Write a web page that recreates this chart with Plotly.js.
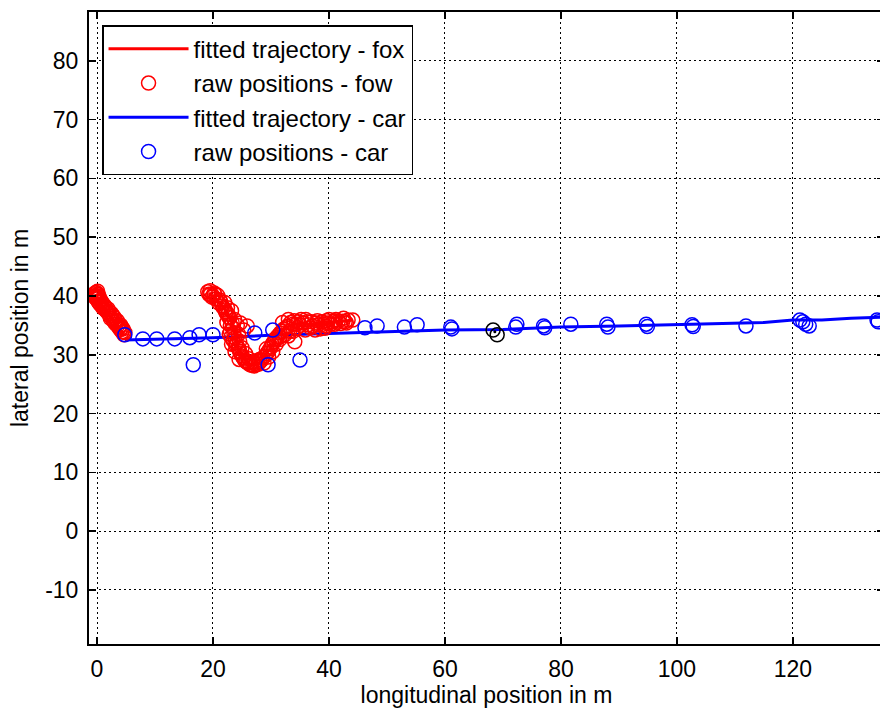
<!DOCTYPE html>
<html><head><meta charset="utf-8">
<script src="https://cdn.plot.ly/plotly-3.0.1.min.js"></script>
<style>html,body{margin:0;padding:0;overflow:hidden;background:#fff}</style>
</head><body><div id="chart" style="width:884px;height:711px"></div>
<script>
// fitted fox trajectory (null splits the two pieces)
const foxFitX = [-0.2, 0.5, 1.5, 2.5, 3.5, 4.6, null, 19.3, 20.5, 21.6, 22.6, 23.3, 23.7, 24.3, 25.2, 26.4, 27.8, 29.0, 30.0, 31.0, 32.2, 33.8, 35.5, 37.2, 39.0, 40.7, 42.4, 44.1];
const foxFitY = [40.2, 38.7, 37.4, 36.1, 34.8, 33.4, null, 40.5, 39.5, 38.3, 36.9, 35.4, 33.7, 31.2, 29.5, 28.3, 28.4, 29.8, 31.3, 33.0, 34.4, 35.2, 35.4, 35.0, 35.2, 35.6, 35.7, 35.9];

// raw fox positions
const foxRawX = [-0.34,-0.17,0.0,0.17,0.52,0.86,1.21,1.72,2.24,2.76,3.28,3.79,4.31,4.66,-0.5,0.2,1.0,2.0,3.0,4.0,-0.3,0.1,
  -0.1,0.4,0.8,1.4,1.9,2.5,3.0,3.5,4.1,4.5,4.8,
  -0.4,-0.2,0.3,0.6,0.3,1.1,1.5,2.1,2.3,2.8,3.2,3.6,3.9,4.3,4.6,
  19.1,19.5,20.0,20.5,21.0,21.6,22.1,22.6,22.9,23.3,23.4,23.6,23.8,24.0,24.3,24.7,25.2,25.7,26.4,27.1,27.8,28.4,29.0,29.5,30.0,30.5,31.0,31.6,32.2,32.9,33.8,34.7,35.5,36.4,37.2,38.1,39.0,39.8,40.7,41.6,42.4,43.3,44.1,
  24.7,25.3,25.9,34.1,35.9,37.6,39.3,22.3,23.0,24.5,26.0,27.5,29.2,30.8,32.0,33.0,34.0,36.0,38.0,40.0,41.0,42.5,31.5,33.2,20.2,19.8,
  19.5,20.8,21.3,22.0,22.5,23.2,23.7,24.2,24.4,24.6,25.0,25.6,26.2,26.8,27.4,28.0,28.8,29.6,30.3,30.9,31.5,32.4,33.0,33.8,34.5,35.2,36.2,37.0,38.5,39.5,40.3,41.2,42.0,43.0,22.4,22.8,23.2,23.8,24.5,
  19.3,20.3,21.2,21.8,22.2,22.7,23.0,23.1,23.5,23.9,24.6,25.0,25.5,26.1,26.7,27.4,28.1,28.6,29.3,29.8,30.2,30.7,31.3,31.9,32.6,33.4,34.4,35.1,36.8,37.8,38.8,39.6,41.0,42.8];
const foxRawY = [40.5,40.0,39.5,39.1,38.6,38.3,37.8,37.3,36.6,35.9,35.2,34.6,33.9,33.4,40.2,40.3,38.0,37.0,35.5,34.3,39.8,40.8,
  40.6,39.8,39.0,38.2,37.8,37.0,36.3,35.8,35.0,34.4,33.8,
  40.0,39.6,40.0,39.3,38.9,38.6,37.6,37.3,36.2,36.6,35.8,35.0,34.8,34.6,33.9,
  40.7,40.2,40.0,39.5,38.8,38.3,37.6,36.9,36.3,35.4,34.6,33.7,32.9,32.0,31.2,30.3,29.5,28.8,28.3,28.1,28.4,29.1,29.8,30.5,31.3,32.2,33.0,33.7,34.4,34.9,35.2,35.6,35.4,35.1,34.9,35.1,35.2,35.4,35.6,35.7,35.7,35.9,35.9,
  35.4,34.2,34.9,32.2,34.2,34.2,34.5,37.0,34.0,31.0,28.6,29.0,31.0,32.5,35.5,36.0,35.8,36.0,35.8,36.0,35.2,36.2,33.0,34.0,40.5,39.8,
  40.9,40.1,39.0,38.9,38.0,37.5,36.0,35.0,33.5,32.3,31.2,30.2,29.3,28.8,28.6,29.2,28.6,29.6,30.5,31.8,32.6,33.4,33.2,34.0,34.6,36.0,35.6,35.6,34.4,34.9,35.2,36.0,35.3,35.4,35.5,33.5,31.8,30.5,29.2,
  40.3,40.3,39.3,38.0,37.3,36.4,35.0,33.0,32.4,31.6,30.6,29.8,29.0,28.6,28.2,28.3,28.8,29.5,30.2,31.0,31.8,32.7,33.3,34.0,34.6,35.5,35.2,35.0,34.6,35.4,35.6,35.8,35.8,35.6];

// fitted car trajectory
const carFitX = [4.8, 10, 20, 30, 40, 50, 60, 70, 80, 90, 100, 110, 115, 120, 125, 130, 135.7];
const carFitY = [32.5, 32.6, 32.9, 33.3, 33.6, 33.9, 34.2, 34.3, 34.7, 34.9, 35.1, 35.3, 35.5, 35.9, 35.9, 36.2, 36.4];

// raw car positions
const carRawX = [4.8, 7.9, 10.3, 13.4, 16.0, 16.6, 17.6, 20.0, 27.2, 29.5, 30.3, 35.0, 46.2, 48.3, 53.0, 55.2, 61.0, 61.2, 72.2, 72.4, 77.0, 77.2, 81.7, 87.9, 88.1, 94.7, 94.9, 102.6, 102.8, 111.9, 121.2, 121.7, 122.2, 122.8, 134.5, 134.7];
const carRawY = [33.4, 32.7, 32.7, 32.7, 32.9, 28.3, 33.4, 33.4, 33.7, 28.3, 34.2, 29.1, 34.6, 34.9, 34.7, 35.1, 34.7, 34.4, 34.7, 35.2, 34.9, 34.6, 35.2, 35.2, 34.7, 35.2, 34.8, 35.1, 34.8, 34.9, 35.9, 35.6, 35.2, 34.9, 35.9, 35.6];

// highlighted positions (black)
const markX = [68.3, 69.0];
const markY = [34.2, 33.4];
const dotX = [68.6];
const dotY = [33.9];

const xTicks = [0, 20, 40, 60, 80, 100, 120];
const xTickText = ['0', '20', '40', '60', '80', '100', '120'];
const yTicks = [-10, 0, 10, 20, 30, 40, 50, 60, 70, 80];
const yTickText = ['-10', '0', '10', '20', '30', '40', '50', '60', '70', '80'];

const FONT = "Liberation Sans, Arial, Helvetica, sans-serif";

const traces = [
  {x: carFitX, y: carFitY, mode: 'lines', name: 'fitted trajectory - car', legendrank: 3,
   line: {color: '#0000FF', width: 3}},
  {x: foxFitX, y: foxFitY, mode: 'lines', name: 'fitted trajectory - fox', legendrank: 1,
   line: {color: '#FF0000', width: 3}, connectgaps: false},
  {x: foxRawX, y: foxRawY, mode: 'markers', name: 'raw positions - fow', legendrank: 2,
   marker: {symbol: 'circle-open', size: 14, color: '#FF0000', line: {width: 1.5}}},
  {x: carRawX, y: carRawY, mode: 'markers', name: 'raw positions - car', legendrank: 4,
   marker: {symbol: 'circle-open', size: 14, color: '#0000FF', line: {width: 1.5}}},
  {x: markX, y: markY, mode: 'markers', showlegend: false,
   marker: {symbol: 'circle-open', size: 14, color: '#000000', line: {width: 1.5}}},
  {x: dotX, y: dotY, mode: 'markers', showlegend: false,
   marker: {symbol: 'circle', size: 3, color: '#000000'}}
];

const axisCommon = {
  showline: true, linecolor: '#000', linewidth: 2, mirror: 'allticks',
  ticks: 'inside', ticklen: 7, tickwidth: 1.5, tickcolor: '#000',
  showgrid: true, gridcolor: '#000', gridwidth: 1, griddash: '2px,3px',
  zeroline: false, tickfont: {family: FONT, size: 23, color: '#000'}
};

const layout = {
  width: 884, height: 711,
  margin: {l: 89, r: 0, t: 12, b: 67},
  paper_bgcolor: '#fff', plot_bgcolor: '#fff',
  font: {family: FONT, color: '#000'},
  xaxis: Object.assign({}, axisCommon, {
    range: [-1.38, 135.7], tickvals: xTicks, ticktext: xTickText, ticklabelstandoff: 3,
    title: {text: 'longitudinal position in m', font: {family: FONT, size: 23, color: '#000'}, standoff: 6}
  }),
  yaxis: Object.assign({}, axisCommon, {
    range: [-19.2, 88.3], tickvals: yTicks, ticktext: yTickText, ticklabelstandoff: 4,
    title: {text: 'lateral position in m', font: {family: FONT, size: 23, color: '#000'}, standoff: 10}
  }),
  showlegend: true,
  legend: {
    x: 0.0164, y: 0.979, xanchor: 'left', yanchor: 'top',
    bgcolor: '#fff', bordercolor: '#000', borderwidth: 1.5,
    font: {family: FONT, size: 24, color: '#000'},
    itemwidth: 80, traceorder: 'normal'
  }
};

Plotly.newPlot('chart', traces, layout, {displayModeBar: false, staticPlot: true});
</script>
</body></html>
